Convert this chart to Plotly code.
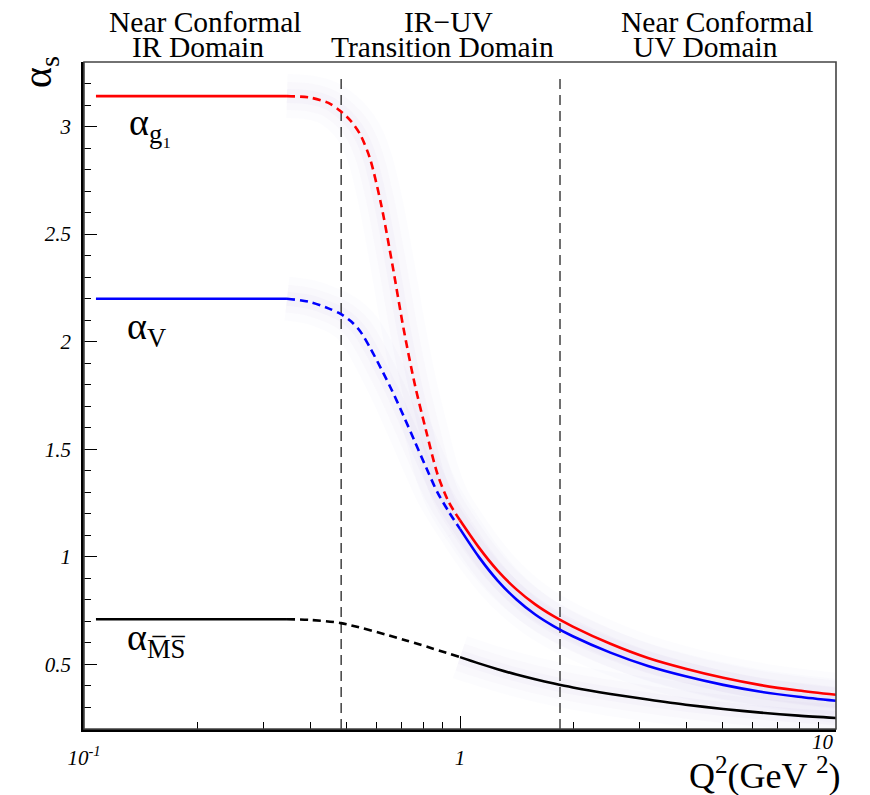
import plotly.graph_objects as go

# Effective strong couplings vs Q^2 (GeV^2)
# IR plateau (solid), IR-UV transition (dashed), UV running (solid)
q2_ir = [0.1076, 0.3466]
g1_ir = [3.1416, 3.1416]
v_ir = [2.20, 2.20]
ms_ir = [0.71, 0.71]

q2_tr = [0.3466, 0.3981, 0.4467, 0.4826, 0.5129, 0.5420, 0.5754, 0.6166, 0.6607,
         0.7079, 0.7586, 0.8128, 0.8710, 0.9333, 1.0]
g1_tr = [3.1416, 3.135, 3.110, 3.070, 3.025, 2.965, 2.855, 2.640, 2.360,
         2.060, 1.800, 1.585, 1.385, 1.255, 1.170]
v_tr = [2.200, 2.185, 2.155, 2.128, 2.095, 2.050, 1.975, 1.875, 1.770,
        1.655, 1.535, 1.415, 1.300, 1.210, 1.130]

q2_ms_tr = [0.3466, 0.3981, 0.4826, 0.7079, 1.0]
ms_tr = [0.710, 0.707, 0.692, 0.615, 0.534]

q2_uv = [1.0, 1.122, 1.259, 1.413, 1.585, 1.778, 1.995, 2.512, 3.162, 3.981,
         5.012, 6.310, 7.943, 10.0]
g1_uv = [1.170, 1.044, 0.936, 0.849, 0.779, 0.723, 0.676, 0.596, 0.530, 0.480,
         0.438, 0.404, 0.379, 0.359]
v_uv = [1.130, 1.000, 0.890, 0.802, 0.732, 0.677, 0.631, 0.555, 0.493, 0.445,
        0.405, 0.373, 0.350, 0.331]
ms_uv = [0.534, 0.505, 0.478, 0.453, 0.431, 0.411, 0.393, 0.363, 0.337, 0.313,
         0.293, 0.276, 0.262, 0.251]

# Domain boundaries
q2_bounds = [0.483, 1.845]

x_tickvals = [0.1, 1, 10]
x_ticktext = ["10<sup>-1</sup>", "1", ""]
x_minor = [0.2, 0.3, 0.4, 0.5, 0.6, 0.7, 0.8, 0.9, 2, 3, 4, 5, 6, 7, 8, 9]

SERIF = "Liberation Serif"
RED, BLUE, BLACK = "#ff0000", "#0000ff", "#000000"

fig = go.Figure()

# soft lavender halo under the curves
def glow(x, y):
    for w, a in [(44, 0.022), (28, 0.028), (14, 0.03)]:
        fig.add_trace(go.Scatter(x=x, y=y, mode="lines", hoverinfo="skip",
                                 line=dict(color=f"rgba(140,110,200,{a})", width=w,
                                           shape="spline", smoothing=0.8),
                                 showlegend=False))

for xs, ys in [(q2_tr, g1_tr), (q2_tr, v_tr), (q2_uv, g1_uv), (q2_uv, v_uv), (q2_uv, ms_uv)]:
    glow(xs, ys)

def curve(x, y, color, dash=None):
    fig.add_trace(go.Scatter(x=x, y=y, mode="lines", hoverinfo="skip", showlegend=False,
                             line=dict(color=color, width=2.6, dash=dash,
                                       shape="spline", smoothing=0.8)))

for qb in q2_bounds:
    fig.add_trace(go.Scatter(x=[qb, qb], y=[0.2, 3.23], mode="lines", hoverinfo="skip",
                             showlegend=False,
                             line=dict(color="#333333", width=1.4, dash="10px,6px")))

curve(q2_ir, g1_ir, RED)
curve(q2_tr, g1_tr, RED, "8px,5px")
curve(q2_uv, g1_uv, RED)
curve(q2_ir, v_ir, BLUE)
curve(q2_tr, v_tr, BLUE, "8px,5px")
curve(q2_uv, v_uv, BLUE)
curve(q2_ir, ms_ir, BLACK)
curve(q2_ms_tr, ms_tr, BLACK, "8px,5px")
curve(q2_uv, ms_uv, BLACK)

ann = []
def label(text, x, y, size, xanchor="center", xref="paper", italic=False, **kw):
    font = dict(family=SERIF, size=size, color="black")
    if italic:
        font["style"] = "italic"
    ann.append(dict(text=text, x=x, y=y, xref=xref, yref="paper", showarrow=False,
                    xanchor=xanchor, yanchor="middle", font=font, **kw))

# Domain headings
label("Near Conformal", 0.161, 1.060, 29.5)
label("IR Domain", 0.152, 1.0225, 29.5)
label("IR\u2212UV", 0.485, 1.060, 29.5)
label("Transition Domain", 0.477, 1.0225, 29.5)
label("Near Conformal", 0.842, 1.060, 29.5)
label("UV Domain", 0.826, 1.0225, 29.5)

# Curve names
label("\u03b1<sub>g\u2081</sub>", 0.057, 0.905, 38, xanchor="left")
label("\u03b1<sub>V</sub>", 0.0545, 0.600, 38, xanchor="left")
label("\u03b1<sub>M\u0305S\u0305</sub>", 0.0545, 0.133, 38, xanchor="left")

# Axis titles
label("\u03b1<sub>s</sub>", -0.0585, 0.985, 40, textangle=-90, bgcolor="white")
label("Q<sup>2</sup>(GeV <sup>2</sup>)", 0.906, -0.066, 36, bgcolor="white")
# label of the last decade, set above the axis title box
label("10", 1.0, -0.019, 21, xanchor="right", xref="x", italic=True)

fig.update_layout(
    width=870, height=795,
    margin=dict(l=84, r=34, t=62, b=66),
    paper_bgcolor="white", plot_bgcolor="white",
    annotations=ann,
    shapes=[dict(type="rect", xref="paper", yref="paper", x0=0, y0=0, x1=1, y1=1,
                 line=dict(color="#444444", width=1.6), layer="above")],
)
fig.update_xaxes(
    type="log", range=[-1, 1], showgrid=False, zeroline=False,
    showline=True, linecolor="black", linewidth=2.6,
    ticks="inside", ticklen=13, tickwidth=1.3, tickcolor="black",
    tickmode="array", tickvals=x_tickvals, ticktext=x_ticktext,
    ticklabelstandoff=8,
    tickfont=dict(family=SERIF, size=21, style="italic", color="black"),
    minor=dict(tickmode="array", tickvals=x_minor, ticks="inside", ticklen=7,
               tickwidth=1.2, tickcolor="black"),
)
fig.update_yaxes(
    range=[0.2, 3.3], showgrid=False, zeroline=False,
    showline=True, linecolor="black", linewidth=2.6,
    ticks="inside", ticklen=13, tickwidth=1.3, tickcolor="black",
    tick0=0, dtick=0.5, ticklabelstandoff=6,
    tickfont=dict(family=SERIF, size=21, style="italic", color="black"),
    minor=dict(dtick=0.1, ticks="inside", ticklen=7, tickwidth=1.2, tickcolor="black"),
)

fig.write_html("out.html")
